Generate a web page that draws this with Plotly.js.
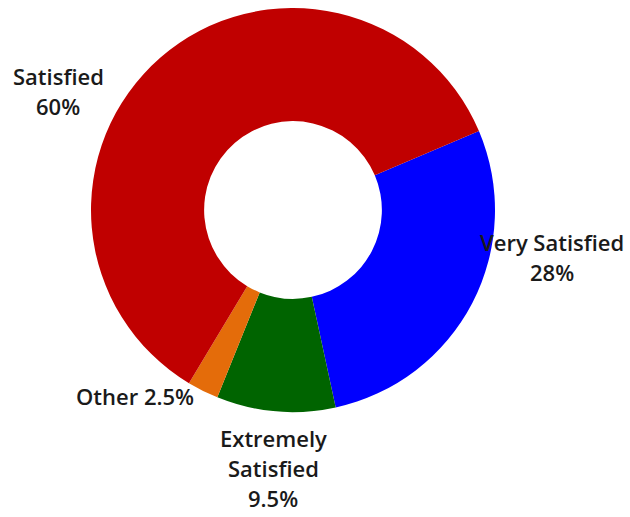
<!DOCTYPE html>
<html>
<head>
<meta charset="utf-8">
<script src="https://cdn.plot.ly/plotly-3.0.1.min.js"></script>
<style>html,body{margin:0;padding:0;background:#fff}#chart{width:630px;height:517px}</style>
</head>
<body>
<div id="chart"></div>
<script>
const categories = ["Very Satisfied", "Extremely Satisfied", "Other", "Satisfied"];
const values = [28, 9.5, 2.5, 60];
const colors = ["#0000FF", "#006400", "#E46C0A", "#C00000"];

// label line breaks (text only) and label anchor positions in pixels
const labelLines = [
  ["Very Satisfied", values[0] + "%"],
  ["Extremely", "Satisfied", values[1] + "%"],
  ["Other " + values[2] + "%"],
  ["Satisfied", values[3] + "%"]
];
const labelPos = [[552, 242], [273, 438], [135, 396], [58, 76]];
const lineGap = 30;

const W = 630, H = 517;
const annotations = [];
labelLines.forEach((lines, i) => {
  lines.forEach((t, j) => {
    annotations.push({
      xref: "paper", yref: "paper",
      x: labelPos[i][0] / W,
      y: 1 - (labelPos[i][1] + j * lineGap) / H,
      text: t, showarrow: false,
      xanchor: "center", yanchor: "middle",
      font: {family: "'Open Sans', sans-serif", size: 22, weight: 600, color: "#1a1a1a"}
    });
  });
});

const trace = {
  type: "pie",
  labels: categories,
  values: values,
  marker: {colors: colors, line: {width: 0}},
  hole: 0.44,
  sort: false,
  direction: "clockwise",
  rotation: 67,
  textinfo: "none",
  hoverinfo: "label+percent",
  domain: {x: [91 / W, 495 / W], y: [(H - 412) / H, (H - 8) / H]}
};

Plotly.newPlot("chart", [trace], {
  width: W, height: H,
  margin: {l: 0, r: 0, t: 0, b: 0},
  showlegend: false,
  paper_bgcolor: "#fff",
  annotations: annotations
}, {displayModeBar: false, staticPlot: true});
</script>
</body>
</html>
